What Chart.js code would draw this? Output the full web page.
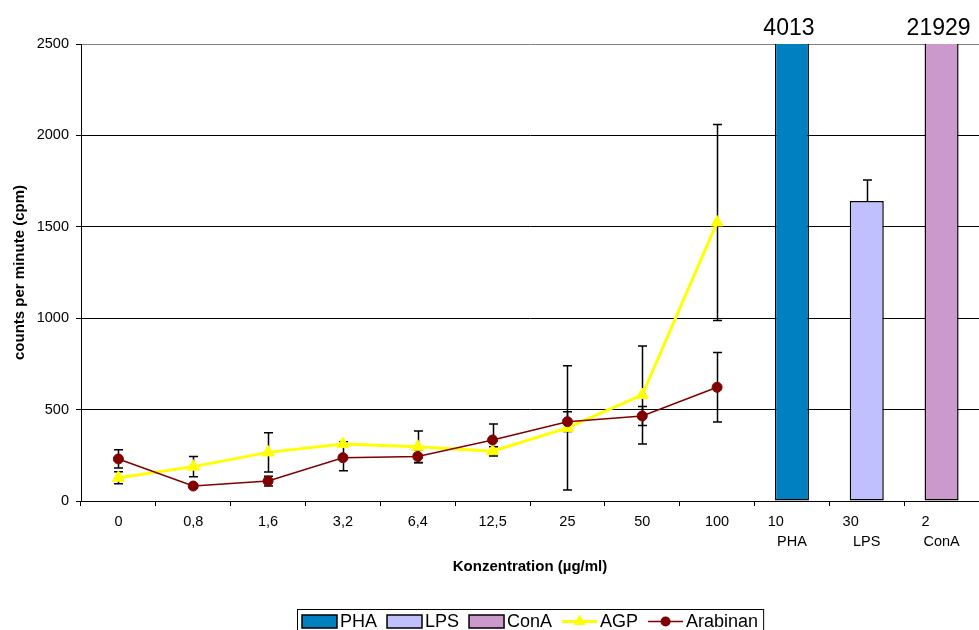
<!DOCTYPE html>
<html>
<head>
<meta charset="utf-8">
<script src="https://cdn.jsdelivr.net/npm/chart.js@4.4.1/dist/chart.umd.min.js"></script>
<style>
  html, body { margin: 0; padding: 0; background: #fff; overflow: hidden; }
</style>
</head>
<body>
<canvas id="chart" width="979" height="630"></canvas>
<script>
var FONT = '"Liberation Sans", Arial, sans-serif';

// x categories: doses in µg/ml, last three are the control stimulants
var doseLabels = ['0', '0,8', '1,6', '3,2', '6,4', '12,5', '25', '50', '100', '10', '30', '2'];
var stimLabels = [null, null, null, null, null, null, null, null, null, 'PHA', 'LPS', 'ConA'];

// line series (cpm) and their standard deviations
var agp         = [127, 188, 266, 312, 297, 272, 400, 580, 1524, null, null, null];
var agpErr      = [33, 55, 107, 12, 86, 25, 340, 268, 536, null, null, null];
var arabinan    = [230, 82, 109, 237, 244, 334, 434, 465, 622, null, null, null];
var arabinanErr = [50, 8, 27, 71, 35, 87, 54, 52, 190, null, null, null];

// control bars
var pha    = [null, null, null, null, null, null, null, null, null, 4013, null, null];
var lps    = [null, null, null, null, null, null, null, null, null, null, 1641, null];
var lpsErr = [null, null, null, null, null, null, null, null, null, null, 115, null];
var cona   = [null, null, null, null, null, null, null, null, null, null, null, 21929];

// error bars, drawn under the markers
var errorBars = {
  id: 'errorBars',
  beforeDatasetsDraw: function(chart) {
    var ctx = chart.ctx, y = chart.scales.y, a = chart.chartArea;
    ctx.save();
    ctx.beginPath();
    ctx.rect(a.left, a.top, a.right - a.left, a.bottom - a.top);
    ctx.clip();
    ctx.strokeStyle = '#000';
    ctx.lineWidth = 1.5;
    chart.data.datasets.forEach(function(ds, i) {
      if (!ds.errors) return;
      var meta = chart.getDatasetMeta(i);
      meta.data.forEach(function(el, j) {
        var v = ds.data[j], e = ds.errors[j];
        if (v == null || e == null) return;
        var x = Math.round(el.x) + 0.5;
        var yt = y.getPixelForValue(v + e);
        var yb = ds.plusOnly ? y.getPixelForValue(v) : y.getPixelForValue(v - e);
        ctx.beginPath();
        ctx.moveTo(x, yt); ctx.lineTo(x, yb);
        ctx.moveTo(x - 4.5, yt); ctx.lineTo(x + 4.5, yt);
        if (!ds.plusOnly) { ctx.moveTo(x - 4.5, yb); ctx.lineTo(x + 4.5, yb); }
        ctx.stroke();
      });
    });
    ctx.restore();
  }
};

// values of bars that run off the top of the scale
var offScaleLabels = {
  id: 'offScaleLabels',
  afterDatasetsDraw: function(chart) {
    var ctx = chart.ctx, y = chart.scales.y;
    ctx.save();
    ctx.font = '23px ' + FONT;
    ctx.fillStyle = '#000';
    ctx.textAlign = 'center';
    ctx.textBaseline = 'alphabetic';
    chart.data.datasets.forEach(function(ds, i) {
      if (ds.type !== 'bar') return;
      chart.getDatasetMeta(i).data.forEach(function(el, j) {
        var v = ds.data[j];
        if (v != null && v > y.max) ctx.fillText(String(v), el.x - 3, chart.chartArea.top - 9);
      });
    });
    ctx.restore();
  }
};

// boxed legend at the bottom, like the spreadsheet one
var boxLegend = {
  id: 'boxLegend',
  afterDraw: function(chart) {
    var ctx = chart.ctx, a = chart.chartArea;
    ctx.save();
    ctx.font = '18px ' + FONT;
    var sw = 35, gap = 3, space = 10, pad = 5;
    var items = chart.data.datasets.map(function(ds) {
      return { ds: ds, w: ctx.measureText(ds.label).width };
    });
    var total = pad * 2 + space * (items.length - 1);
    items.forEach(function(it) { total += sw + gap + it.w; });
    var x = Math.round((a.left + a.right) / 2 - total / 2);
    var top = 609, cy = 621.5;
    ctx.strokeStyle = '#000';
    ctx.lineWidth = 1;
    ctx.strokeRect(x + 0.5, top + 0.5, total, 40);
    x += pad;
    items.forEach(function(it) {
      var ds = it.ds;
      if (ds.type === 'bar') {
        ctx.fillStyle = ds.backgroundColor;
        ctx.fillRect(x, cy - 6.5, sw, 13);
        ctx.lineWidth = 1.5;
        ctx.strokeStyle = '#000';
        ctx.strokeRect(x, cy - 6.5, sw, 13);
      } else {
        ctx.strokeStyle = ds.borderColor;
        ctx.lineWidth = ds.borderWidth;
        ctx.beginPath();
        ctx.moveTo(x, cy); ctx.lineTo(x + sw, cy);
        ctx.stroke();
        var mx = x + sw / 2, r = ds.pointRadius;
        ctx.fillStyle = ds.backgroundColor;
        ctx.beginPath();
        if (ds.pointStyle === 'triangle') {
          ctx.moveTo(mx, cy - r);
          ctx.lineTo(mx + r * 0.866, cy + r * 0.5);
          ctx.lineTo(mx - r * 0.866, cy + r * 0.5);
          ctx.closePath();
        } else {
          ctx.arc(mx, cy, r, 0, Math.PI * 2);
        }
        ctx.fill();
      }
      ctx.fillStyle = '#000';
      ctx.textAlign = 'left';
      ctx.textBaseline = 'middle';
      ctx.fillText(ds.label, x + sw + gap, cy + 1);
      x += sw + gap + it.w + space;
    });
    ctx.restore();
  }
};

function barSet(label, data, color) {
  return {
    type: 'bar', label: label, data: data,
    backgroundColor: color, borderColor: '#000', borderWidth: 1.5,
    borderSkipped: false, grouped: false,
    categoryPercentage: 1, barPercentage: 0.455,
    clip: 0, order: 2
  };
}

var lpsSet = barSet('LPS', lps, '#C0C0FF');
lpsSet.errors = lpsErr;
lpsSet.plusOnly = true;

new Chart(document.getElementById('chart'), {
  data: {
    labels: doseLabels,
    datasets: [
      barSet('PHA', pha, '#0080C0'),
      lpsSet,
      barSet('ConA', cona, '#CC99CC'),
      {
        type: 'line', label: 'AGP', data: agp, errors: agpErr,
        borderColor: '#FFFF00', backgroundColor: '#FFFF00', borderWidth: 3,
        pointStyle: 'triangle', pointRadius: 7, pointBorderWidth: 1,
        tension: 0, order: 1
      },
      {
        type: 'line', label: 'Arabinan', data: arabinan, errors: arabinanErr,
        borderColor: '#800000', backgroundColor: '#800000', borderWidth: 1.5,
        pointStyle: 'circle', pointRadius: 5, pointBorderWidth: 1,
        tension: 0, order: 0
      }
    ]
  },
  options: {
    responsive: false,
    animation: false,
    layout: { autoPadding: false, padding: { top: 44, right: 0, bottom: 54, left: 0 } },
    plugins: {
      legend: { display: false },
      tooltip: { enabled: false }
    },
    scales: {
      x: {
        grid: { offset: true, drawOnChartArea: false, tickLength: 5, color: '#000' },
        border: { color: '#000', width: 1 },
        ticks: {
          color: '#000', autoSkip: false, maxRotation: 0, padding: 6,
          font: { family: FONT, size: 14.5, lineHeight: 1.38 },
          callback: function(v, i) {
            if (stimLabels[i]) return [doseLabels[i] + '        ', stimLabels[i]];
            return doseLabels[i];
          }
        },
        title: {
          display: true, text: 'Konzentration (µg/ml)', color: '#000',
          font: { family: FONT, size: 15, weight: 'bold' },
          padding: { top: 0, bottom: 0 }
        },
        afterFit: function(s) { s.height = 75; s.paddingLeft = 0; s.paddingRight = 0; }
      },
      y: {
        min: 0, max: 2500,
        ticks: {
          stepSize: 500, color: '#000', padding: 7, font: { family: FONT, size: 14.5 },
          callback: function(v) { return String(v); }
        },
        grid: {
          color: function(c) { return c.tick && c.tick.value === 2500 ? '#808080' : '#000'; },
          tickColor: '#000', tickLength: 5, lineWidth: 1
        },
        border: { color: '#000', width: 1 },
        title: {
          display: true, text: 'counts per minute (cpm)', color: '#000',
          font: { family: FONT, size: 15, weight: 'bold' },
          padding: { top: 11, bottom: 0 }
        },
        afterFit: function(s) { s.width = 81; }
      }
    }
  },
  plugins: [errorBars, offScaleLabels, boxLegend]
});
</script>
</body>
</html>
